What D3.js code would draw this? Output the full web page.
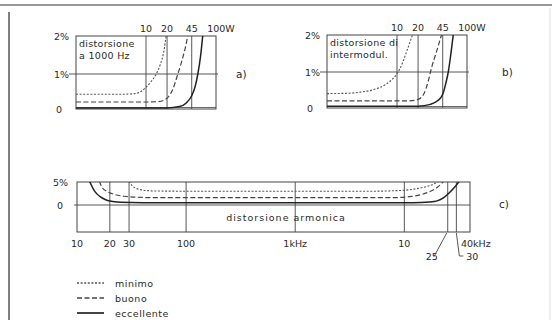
<!DOCTYPE html>
<html>
<head>
<meta charset="utf-8">
<script src="https://cdn.jsdelivr.net/npm/d3@7"></script>
<style>
  body { margin: 0; background: #fff; }
  svg text { font-family: "DejaVu Sans", sans-serif; fill: #2a2a2a; }
</style>
</head>
<body>
<svg id="grafico"></svg>
<script>
// Dati
var potenzeTick = [10, 20, 45, 100];          // W, pannelli a) e b)
var frequenzeTick = [10, 20, 30, 100, 1000, 10000];
var frequenzeLinee = [20, 30, 100, 1000, 10000, 25000, 30000];
var etichetteFreq = ['10', '20', '30', '100', '1kHz', '10'];
var legenda = ['minimo', 'buono', 'eccellente'];

// a) distorsione a 1000 Hz  [W, %]
var minimoA = [[1,0.42],[4,0.42],[7,0.44],[8.5,0.5],[10,0.62],[12,0.8],[14,1.0],[16,1.25],[18,1.6],[19.5,2.05]];
var buonoA = [[1,0.2],[10,0.2],[15,0.21],[18,0.25],[21,0.35],[24,0.55],[28,0.95],[32,1.3],[36,1.65],[40,2.05]];
var eccellenteA = [[1,0.03],[20,0.03],[30,0.07],[38,0.18],[45,0.38],[50,0.62],[55,1.0],[60,1.45],[65,2.05]];

// b) distorsione di intermodulazione  [W, %]
var minimoB = [[1,0.4],[2,0.41],[3,0.44],[5,0.53],[7,0.66],[9,0.84],[10,0.95],[12,1.25],[14,1.6],[17,2.05]];
var buonoB = [[1,0.2],[15,0.2],[20,0.24],[24,0.38],[28,0.75],[31,1.1],[36,1.5],[44,2.05]];
var eccellenteB = [[1,0.05],[20,0.05],[30,0.1],[38,0.2],[45,0.38],[50,0.7],[54,1.0],[58,1.4],[64,2.05]];

// c) distorsione armonica  [Hz, %]
var minimoC = [[30,5.2],[32,4.2],[35,3.6],[40,3.25],[50,3.05],[100,3],[1000,3],[5000,3],[8000,3.1],[11000,3.3],[14000,3.7],[17000,4.2],[21000,5.2]];
var buonoC = [[16,5.2],[17,3.8],[19,2.9],[22,2.3],[27,1.9],[35,1.7],[50,1.6],[1000,1.6],[8000,1.6],[11000,1.8],[14000,2.2],[17000,2.9],[20000,3.8],[23000,5.2]];
var eccellenteC = [[13,5.2],[14.6,2.9],[16.3,1.8],[18.1,1.2],[20,0.85],[25,0.6],[40,0.5],[1000,0.5],[12000,0.5],[17000,0.65],[20000,0.9],[23000,1.6],[26000,2.7],[29000,3.9],[32000,5.2]];

var svg = d3.select('#grafico').attr('width', 552).attr('height', 320);

// stili delle tre curve
var stili = {
  minimo: { dash: '2,1.6', width: 1.1, color: '#555' },
  buono: { dash: '5,2.5', width: 1.2, color: '#444' },
  eccellente: { dash: null, width: 1.5, color: '#222' }
};

// cornice della pagina
svg.append('line').attr('x1', 0).attr('x2', 552).attr('y1', 5).attr('y2', 5)
   .attr('stroke', '#999').attr('stroke-width', 2);
svg.append('line').attr('x1', 9).attr('x2', 9).attr('y1', 12).attr('y2', 320)
   .attr('stroke', '#555').attr('stroke-width', 1.5);
svg.append('line').attr('x1', 550).attr('x2', 550).attr('y1', 8).attr('y2', 320)
   .attr('stroke', '#ddd').attr('stroke-width', 1);

function disegnaCurve(g, x, y, serie, idClip) {
  var linea = d3.line().x(d => x(d[0])).y(d => y(d[1])).curve(d3.curveMonotoneX);
  var nomi = ['minimo', 'buono', 'eccellente'];
  serie.forEach(function(s, i) {
    var st = stili[nomi[i]];
    g.append('path')
     .attr('d', linea(s))
     .attr('fill', 'none')
     .attr('stroke', st.color)
     .attr('stroke-width', st.width)
     .attr('stroke-dasharray', st.dash)
     .attr('clip-path', 'url(#' + idClip + ')');
  });
}

// Pannelli a) e b)
function PannelloPotenza(p) {
  var x = d3.scaleLog().domain([1, 100]).range(p.rangeX);
  var y = d3.scaleLinear().domain([0, 1, 2]).range(p.rangeY);
  var g = svg.append('g');
  var x0 = p.rangeX[0], x1 = p.rangeX[1];

  svg.append('clipPath').attr('id', p.id)
     .append('rect').attr('x', x0).attr('y', y(2)).attr('width', x1 - x0).attr('height', y(0) - y(2));

  // griglia
  g.append('rect').attr('x', x0).attr('y', y(2)).attr('width', x1 - x0).attr('height', y(0) - y(2))
   .attr('fill', 'none').attr('stroke', '#444').attr('stroke-width', 1);
  g.append('line').attr('x1', x0 - 7).attr('x2', x1 + 2).attr('y1', y(1)).attr('y2', y(1))
   .attr('stroke', '#444').attr('stroke-width', 0.9);
  g.selectAll('.vl').data(potenzeTick.slice(0, 3)).enter().append('line')
   .attr('x1', d => x(d)).attr('x2', d => x(d)).attr('y1', y(2)).attr('y2', y(0))
   .attr('stroke', '#444').attr('stroke-width', 0.9);
  g.append('line').attr('x1', x0).attr('x2', x1).attr('y1', y(0) - 1.5).attr('y2', y(0) - 1.5)
   .attr('stroke', '#444').attr('stroke-width', 0.8);

  // etichette
  g.selectAll('.tk').data(potenzeTick).enter().append('text')
   .attr('x', d => x(d) + (d === 100 ? 5 : 0)).attr('y', y(2) - 4)
   .attr('text-anchor', 'middle').attr('font-size', 9.5)
   .text(d => d === 100 ? '100W' : d);
  [[2, '2%'], [1, '1%'], [0, '0']].forEach(function(v) {
    g.append('text').attr('x', v[0] === 0 ? x0 - 14 : x0 - 7).attr('y', y(v[0]) + 3.5)
     .attr('text-anchor', 'end').attr('font-size', 9.5).text(v[1]);
  });
  p.titolo.forEach(function(t, i) {
    g.append('text').attr('x', x0 + 3).attr('y', y(2) + 11 + i * 12)
     .attr('font-size', 9.5).attr('letter-spacing', 0.3).text(t);
  });
  g.append('text').attr('x', p.lettera[0]).attr('y', p.lettera[1])
   .attr('font-size', 10.5).text(p.lettera[2]);

  disegnaCurve(g, x, y, p.serie, p.id);
}

new PannelloPotenza({
  id: 'clipA', rangeX: [76, 216], rangeY: [109, 74, 36],
  titolo: ['distorsione', 'a  1000 Hz'], lettera: [236, 78, 'a)'],
  serie: [minimoA, buonoA, eccellenteA]
});
new PannelloPotenza({
  id: 'clipB', rangeX: [327, 467], rangeY: [108, 72, 35],
  titolo: ['distorsione di', 'intermodul.'], lettera: [502, 76, 'b)'],
  serie: [minimoB, buonoB, eccellenteB]
});

// Pannello c)
(function() {
  var x = d3.scaleLog().domain([10, 40000]).range([77, 470]);
  var y = d3.scaleLinear().domain([0, 5]).range([205, 182]);
  var fondo = 232;
  var g = svg.append('g');

  svg.append('clipPath').attr('id', 'clipC')
     .append('rect').attr('x', x(10)).attr('y', y(5)).attr('width', x(40000) - x(10)).attr('height', fondo - y(5));

  g.append('rect').attr('x', x(10)).attr('y', y(5)).attr('width', x(40000) - x(10)).attr('height', fondo - y(5))
   .attr('fill', 'none').attr('stroke', '#444').attr('stroke-width', 1);
  g.append('line').attr('x1', x(10) - 3).attr('x2', x(40000)).attr('y1', y(0)).attr('y2', y(0))
   .attr('stroke', '#444').attr('stroke-width', 0.9);
  g.selectAll('.vl').data(frequenzeLinee).enter().append('line')
   .attr('x1', d => x(d)).attr('x2', d => x(d)).attr('y1', y(5)).attr('y2', fondo)
   .attr('stroke', '#444').attr('stroke-width', 0.9);

  g.selectAll('.tk').data(frequenzeTick).enter().append('text')
   .attr('x', d => x(d)).attr('y', fondo + 15)
   .attr('text-anchor', 'middle').attr('font-size', 9.5)
   .text((d, i) => etichetteFreq[i]);
  g.append('text').attr('x', x(40000) - 9).attr('y', fondo + 15)
   .attr('font-size', 9.5).text('40kHz');
  g.append('text').attr('x', x(25000) - 16).attr('y', fondo + 28)
   .attr('text-anchor', 'middle').attr('font-size', 9.5).text('25');
  g.append('text').attr('x', x(30000) + 16).attr('y', fondo + 28)
   .attr('text-anchor', 'middle').attr('font-size', 9.5).text('30');
  g.append('path').attr('d', d3.line()([[x(25000) - 1, fondo + 1], [x(25000) - 14, fondo + 25]]))
   .attr('stroke', '#444').attr('stroke-width', 0.9).attr('fill', 'none');
  g.append('path').attr('d', d3.line()([[x(30000), fondo + 1], [x(30000) + 3, fondo + 24], [x(30000) + 7, fondo + 24]]))
   .attr('stroke', '#444').attr('stroke-width', 0.9).attr('fill', 'none');

  g.append('text').attr('x', x(10) - 9).attr('y', y(5) + 3.5)
   .attr('text-anchor', 'end').attr('font-size', 9.5).text('5%');
  g.append('text').attr('x', x(10) - 14).attr('y', y(0) + 3.5)
   .attr('text-anchor', 'end').attr('font-size', 9.5).text('0');
  g.append('text').attr('x', 286).attr('y', 221)
   .attr('text-anchor', 'middle').attr('font-size', 9.5).attr('letter-spacing', 1)
   .text('distorsione armonica');
  g.append('text').attr('x', 499).attr('y', 208).attr('font-size', 10.5).text('c)');

  disegnaCurve(g, x, y, [minimoC, buonoC, eccellenteC], 'clipC');
})();

// Legenda
var leg = svg.append('g');
legenda.forEach(function(nome, i) {
  var yy = 283 + i * 15;
  var st = stili[nome];
  leg.append('line').attr('x1', 77).attr('x2', 104).attr('y1', yy).attr('y2', yy)
     .attr('stroke', st.color).attr('stroke-width', st.width + 0.2)
     .attr('stroke-dasharray', st.dash);
  leg.append('text').attr('x', 115).attr('y', yy + 3.5)
     .attr('font-size', 9.5).attr('letter-spacing', 0.5).text(nome);
});
</script>
</body>
</html>
